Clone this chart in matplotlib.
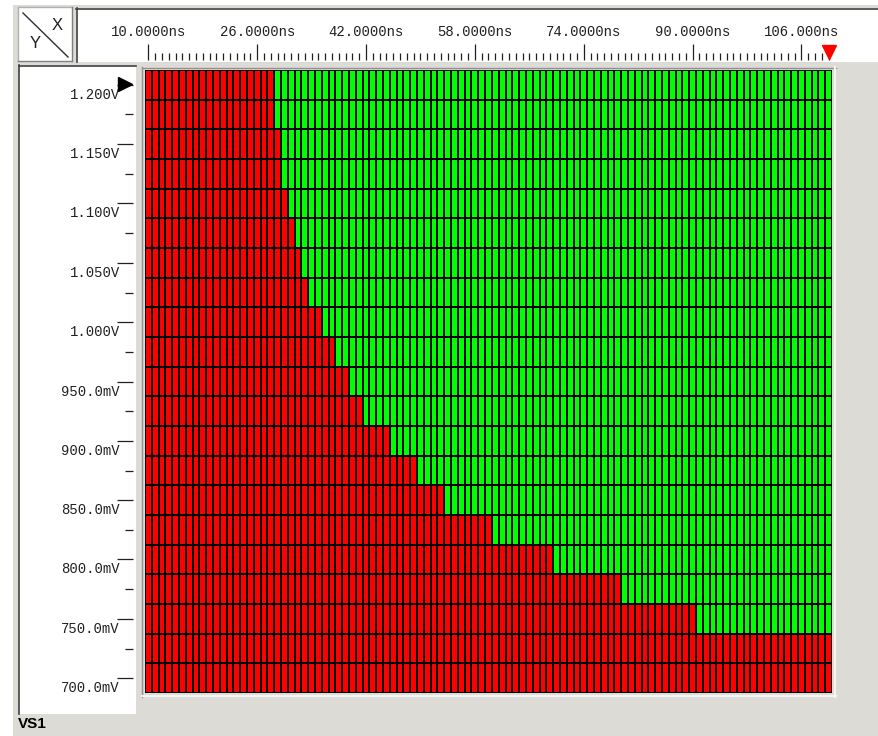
import matplotlib.pyplot as plt
import numpy as np
from matplotlib.colors import ListedColormap
from matplotlib.lines import Line2D
from matplotlib.patches import Rectangle
from matplotlib.transforms import ScaledTranslation

# shmoo sweep: supply voltage (rows) vs clock period (columns)
voltages = [1.200, 1.175, 1.150, 1.125, 1.100, 1.075, 1.050, 1.025, 1.000,
            0.975, 0.950, 0.925, 0.900, 0.875, 0.850, 0.825, 0.800, 0.775,
            0.750, 0.725, 0.700]
# shortest passing period per voltage row, None = fails everywhere
first_pass_ns = [29, 29, 30, 30, 31, 32, 33, 34, 36, 38, 40, 42, 46, 50,
                 54, 61, 70, 80, 91, None, None]
period_start, period_stop, period_step = 10, 110, 1
major_period_ticks = [10, 26, 42, 58, 74, 90, 106]
current_period = 110
current_voltage = 1.200
sweep_name = "VS1"

FAIL = '#ff0000'
PASS = '#00ff00'
BG = '#dcdbd6'
W, H = 879, 736


def fx(px):
    return px / W


def fy(py):
    return 1 - py / H


def rect(fig, x0, y0, x1, y1, color, z=0):
    fig.add_artist(Rectangle((fx(x0), fy(y1)), fx(x1) - fx(x0), fy(y0) - fy(y1),
                             transform=fig.transFigure, facecolor=color,
                             edgecolor='none', zorder=z))


def seg(fig, x0, y0, x1, y1, color, lw=1.0, z=1):
    fig.add_artist(Line2D([fx(x0), fx(x1)], [fy(y0), fy(y1)],
                          transform=fig.transFigure, color=color, lw=lw, zorder=z))


periods = np.arange(period_start, period_stop + period_step, period_step)
volts = np.array(voltages)
status = np.array([[0 if fp is None else int(p >= fp) for p in periods]
                   for fp in first_pass_ns])
order = np.argsort(volts)
volts_up = volts[order]
status_up = status[order]

x_edges = np.append(periods - period_step / 2, periods[-1] + period_step / 2)
dv = 0.025
y_edges = np.append(volts_up - dv / 2, volts_up[-1] + dv / 2)

fig = plt.figure(figsize=(W / 100, H / 100), dpi=100, facecolor='white')

# window chrome
rect(fig, 13, 5, W, H, BG)
rect(fig, 18, 7, 72, 61, 'white', 1)
seg(fig, 18, 7, 72, 7, '#b0b0b0')
seg(fig, 18, 7, 18, 61, '#b0b0b0')
seg(fig, 72, 7, 72, 61, '#808080')
seg(fig, 18, 61, 72, 61, '#808080')
seg(fig, 23, 13, 68, 57, '#303030', 1.0, 2)
fig.text(fx(57), fy(25), 'X', fontsize=12, family='Liberation Sans',
         ha='center', va='center', color='#202020')
fig.text(fx(35), fy(44), 'Y', fontsize=12, family='Liberation Sans',
         ha='center', va='center', color='#202020')

rect(fig, 76, 8, W, 62, 'white', 1)
seg(fig, 76, 8.5, W, 8.5, '#404040', 1.2, 2)
seg(fig, 76.5, 8, 76.5, 62, '#404040', 1.2, 2)

rect(fig, 19, 65, 136, 714, 'white', 1)
seg(fig, 19, 65.5, 136, 65.5, '#404040', 1.2, 2)
seg(fig, 19.5, 65, 19.5, 714, '#404040', 1.2, 2)

seg(fig, 142, 67.5, 836, 67.5, '#909090', 1.0, 2)
seg(fig, 142.5, 67, 142.5, 697, '#909090', 1.0, 2)
seg(fig, 142, 696, 836, 696, '#f4f4f4', 1.5, 2)
seg(fig, 835, 67, 835, 697, '#f4f4f4', 1.5, 2)

fig.text(fx(18), fy(724), sweep_name, fontsize=11, family='Liberation Sans',
         weight='bold', ha='left', va='center', color='black')

ax = fig.add_axes([fx(145), fy(693), 687 / W, 623 / H])
ax.set_zorder(5)
ax.patch.set_alpha(0)
ax.pcolormesh(x_edges, y_edges, status_up, cmap=ListedColormap([FAIL, PASS]),
              vmin=0, vmax=1, edgecolors='black', linewidth=1.4)
ax.set_xlim(x_edges[0], x_edges[-1])
ax.set_ylim(y_edges[0], y_edges[-1])
for s in ax.spines.values():
    s.set_visible(False)

# period axis along the top
ax.xaxis.tick_top()
ax.spines['top'].set_position(('outward', 7.5))
ax.set_xticks(major_period_ticks)
ax.set_xticklabels([f"{t:.{6 - len(str(t))}f}ns" for t in major_period_ticks],
                   family='Liberation Mono', fontsize=10, color='#202020')
ax.set_xticks(periods, minor=True)
ax.tick_params(axis='x', which='major', length=11.5, width=0.9, pad=3,
               color='#202020')
ax.tick_params(axis='x', which='minor', length=5, width=0.9, color='#202020')
ax.tick_params(axis='x', bottom=False, which='both')

# voltage axis on the left
major_v = [v for v in voltages if round(v * 1000) % 50 == 0]
minor_v = [v for v in voltages if round(v * 1000) % 50 != 0]
ax.spines['left'].set_position(('outward', 8.6))
ax.set_yticks(major_v)
ax.set_yticklabels([])
ax.set_yticks(minor_v, minor=True)
ax.tick_params(axis='y', which='major', length=11.5, width=0.9, color='#202020')
ax.tick_params(axis='y', which='minor', length=5.8, width=0.9, color='#202020')
for v in major_v:
    lab = f"{v:.3f}V" if v >= 1.0 else f"{v * 1000:.1f}mV"
    ax.annotate(lab, xy=(0, v), xycoords=('axes fraction', 'data'),
                xytext=(-25, -10), textcoords='offset pixels', ha='right',
                va='center', family='Liberation Mono', fontsize=10,
                color='#202020', annotation_clip=False)

# current operating point markers
ax.plot([current_period], [1], marker='v', markersize=10, color='#ff0000',
        transform=ax.get_xaxis_transform() + ScaledTranslation(0, 0.18, fig.dpi_scale_trans),
        clip_on=False)
ax.plot([0], [current_voltage], marker='>', markersize=10, color='black',
        transform=ax.get_yaxis_transform() + ScaledTranslation(-0.2, 0.01, fig.dpi_scale_trans),
        clip_on=False, zorder=5)

fig.savefig('out.png', dpi=100, facecolor='white')
